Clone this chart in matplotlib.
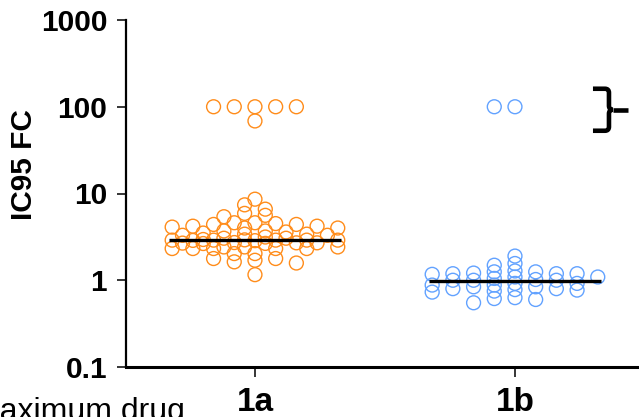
import numpy as np
import matplotlib
matplotlib.use("Agg")
import matplotlib.pyplot as plt
from matplotlib.path import Path
from matplotlib.patches import PathPatch
from matplotlib.transforms import ScaledTranslation
from matplotlib.ticker import FixedLocator, FixedFormatter, NullLocator

plt.rcParams['font.family'] = ['Liberation Sans', 'DejaVu Sans']

# ---- data -------------------------------------------------------------
groups = ['1a', '1b']

ic95_1a = [100, 100, 100, 100, 100, 68.6,
           8.6, 7.4, 6.6, 5.9, 5.6, 5.4,
           4.6, 4.6, 4.5, 4.4, 4.4,
           4.2, 4.2, 4.1, 4.0, 4.0, 3.7, 3.7,
           3.6, 3.5, 3.4, 3.4, 3.3, 3.3, 3.15,
           3.05, 3.05,
           2.95, 2.92, 2.9, 2.9, 2.9, 2.9, 2.9, 2.88, 2.86,
           2.72, 2.7, 2.7, 2.68, 2.66, 2.65,
           2.42, 2.42, 2.42, 2.32, 2.32, 2.32, 2.32, 2.32,
           2.03, 2.03, 1.78, 1.78, 1.70, 1.63, 1.58, 1.16]

ic95_1b = [100, 100,
           1.9, 1.56, 1.49,
           1.28, 1.25, 1.21, 1.19, 1.19, 1.19, 1.25, 1.17,
           1.09, 1.05, 1.0, 1.0, 1.0, 1.02, 1.09,
           0.92, 0.88, 0.84, 0.92, 0.88, 0.84,
           0.77, 0.73, 0.80, 0.80, 0.78, 0.75,
           0.615, 0.55, 0.60, 0.63]

medians = [2.94, 0.97]

y_ticks = [0.1, 1, 10, 100, 1000]
y_tick_labels = ['0.1', '1', '10', '100', '1000']

colors = ['#FF8C1A', '#62A2FF']

# ---- figure -----------------------------------------------------------
W, H, DPI = 639, 417, 100
fig = plt.figure(figsize=(W / DPI, H / DPI), dpi=DPI)
ax = fig.add_axes([126 / W, 1 - 367 / H, (W - 126) / W, 347 / H])
ax.set_yscale('log')
ax.set_ylim(0.1, 1000)
ax.set_xlim(0.504, 2.477)


def swarm_x(values, center, step_px=10.35, rx=20.0, ry=6.0, kmax=8):
    """Column-scatter layout: spread points sideways on a half-step grid."""
    values = np.asarray(values, dtype=float)
    pts = np.column_stack([np.full(len(values), center), values])
    ys = ax.transData.transform(pts)[:, 1]
    order = np.argsort(-values, kind='stable')
    cands = [0] + [s * j for j in range(1, kmax + 1) for s in (-1, 1)]
    placed = []
    offs = np.zeros(len(values))
    for i in order:
        y = ys[i]
        best, best_score = 0.0, -1.0
        for c in cands:
            dx = c * step_px
            score = min([((dx - px) / rx) ** 2 + ((y - py) / ry) ** 2
                         for px, py in placed] or [np.inf])
            if score >= 1:
                best = dx
                break
            if score > best_score:
                best, best_score = dx, score
        placed.append((best, y))
        offs[i] = best
    x0 = ax.transData.transform((center, 1.0))[0]
    disp = np.column_stack([x0 + offs, ys])
    return ax.transData.inverted().transform(disp)[:, 0]


for i, (vals, col) in enumerate(zip([ic95_1a, ic95_1b], colors)):
    pos = i + 1
    xs = swarm_x(vals, pos)
    ax.scatter(xs, vals, s=100, facecolors='none', edgecolors=col,
               linewidths=1.0, zorder=2, clip_on=False)
    ax.hlines(medians[i], pos - 0.33, pos + 0.33, color='black',
              lw=2.4, zorder=3)

# ---- axes styling -----------------------------------------------------
for side in ('top', 'right'):
    ax.spines[side].set_visible(False)
ax.spines['left'].set_linewidth(1.6)
ax.spines['bottom'].set_linewidth(2.2)

ax.yaxis.set_major_locator(FixedLocator(y_ticks))
ax.yaxis.set_major_formatter(FixedFormatter(y_tick_labels))
ax.yaxis.set_minor_locator(NullLocator())
ax.tick_params(axis='y', which='major', length=6.5, width=1.1, pad=7,
               labelsize=21.5)
ax.set_xticks([1, 2])
ax.set_xticklabels(groups)
ax.tick_params(axis='x', length=7.5, width=1.1, pad=7, labelsize=24)
for lbl in ax.get_xticklabels() + ax.get_yticklabels():
    lbl.set_fontweight('bold')

fig.text(24 / W, 1 - 165 / H, 'IC95 FC', rotation=90, ha='center',
         va='center', fontsize=21.5, fontweight='bold')

fig.text(185 / W, -3 / H, 'Maximum drug', ha='right', va='baseline',
         fontsize=23, fontweight='normal')

# ---- bracket marking the top-dose values ------------------------------
tr = fig.dpi_scale_trans + ScaledTranslation(2.3615, 100, ax.transData)
px = 1.0 / DPI
verts_up = [(-16, 18), (-4, 18), (0, 18), (0, 14), (0, 1), (0, -3), (4, -3)]
codes_up = [Path.MOVETO, Path.LINETO, Path.CURVE3, Path.CURVE3,
            Path.LINETO, Path.CURVE3, Path.CURVE3]
verts_dn = [(-16, -24), (-4, -24), (0, -24), (0, -20), (0, -7), (0, -3), (4, -3)]
verts_nub = [(4, -3), (19, -3)]
for verts, codes in [(verts_up, codes_up), (verts_dn, codes_up),
                     (verts_nub, [Path.MOVETO, Path.LINETO])]:
    path = Path([(a * px, b * px) for a, b in verts], codes)
    fig.patches.append(PathPatch(path, transform=tr, facecolor='none',
                                 edgecolor='black', lw=3.3,
                                 capstyle='butt', joinstyle='round'))

fig.savefig('out.png', dpi=DPI)
